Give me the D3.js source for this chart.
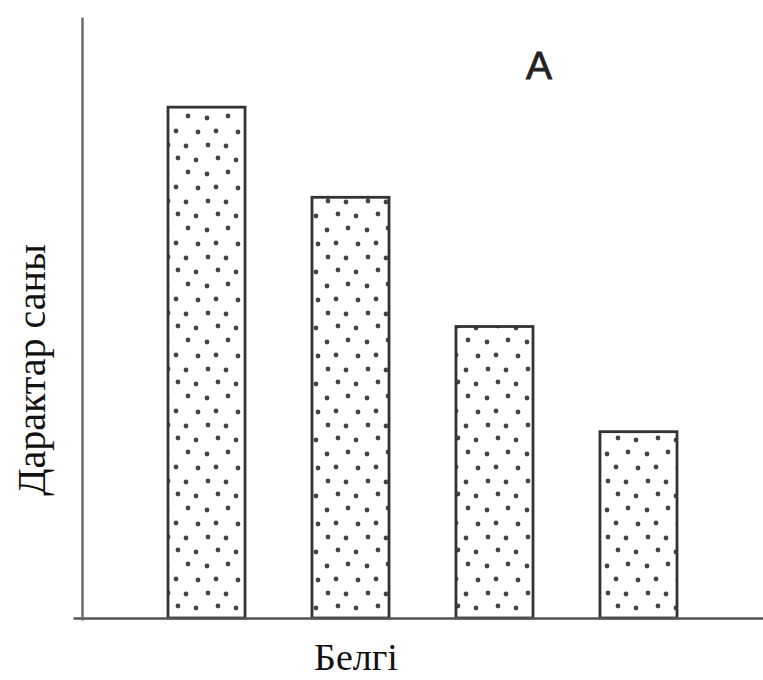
<!DOCTYPE html>
<html>
<head>
<meta charset="utf-8">
<script src="https://cdn.jsdelivr.net/npm/d3@7"></script>
<style>
  html, body { margin: 0; padding: 0; background: #fff; }
  svg { display: block; }
</style>
</head>
<body>
<svg id="chart" width="763" height="680"></svg>
<script>
// ---- data ----
const categories = ["1", "2", "3", "4"];
const values = [85, 70, 48.5, 31];
const yDomain = [0, 100];
const panelLabel = "A";
const xTitle = "Белгі";
const yTitle = "Дарактар саны";

// ---- chart ----
const svg = d3.select("#chart");
const baseY = 618, topY = 17, axisX = 82;

const x = d3.scaleBand()
  .domain(categories)
  .range([96, 749])
  .paddingInner(0.465)
  .paddingOuter(0.5);

const y = d3.scaleLinear().domain(yDomain).range([baseY, topY]);

// stipple pattern (hand-placed dots in one tile)
const defs = svg.append("defs");
const tileW = 40, tileH = 56;
const pat = defs.append("pattern")
  .attr("id", "dots")
  .attr("patternUnits", "userSpaceOnUse")
  .attr("width", tileW).attr("height", tileH)
  .attr("x", 2).attr("y", 0);
pat.append("rect").attr("width", tileW).attr("height", tileH).attr("fill", "#fff");
[[5, 6], [26, 4], [14, 19], [36, 20], [6, 33], [24, 34], [16, 46], [34, 48]].forEach(([cx, cy]) => {
  pat.append("circle").attr("cx", cx).attr("cy", cy).attr("r", 2.4).attr("fill", "#454545");
});

// bars
svg.append("g").selectAll("rect")
  .data(categories.map((c, i) => ({ c, v: values[i] })))
  .join("rect")
  .attr("x", d => x(d.c))
  .attr("y", d => y(d.v))
  .attr("width", x.bandwidth())
  .attr("height", d => y(0) - y(d.v))
  .attr("fill", "url(#dots)")
  .attr("stroke", "#333")
  .attr("stroke-width", 2.8);

// axes
const xAxisScale = d3.scaleLinear().range([73, 763]);
svg.append("g")
  .attr("transform", `translate(0,${baseY})`)
  .call(d3.axisBottom(xAxisScale).tickValues([]).tickSizeOuter(0))
  .call(g => g.select(".domain").attr("stroke", "#555").attr("stroke-width", 2.4));

const yAxisScale = d3.scaleLinear().range([620, topY]);
svg.append("g")
  .attr("transform", `translate(${axisX},0)`)
  .call(d3.axisLeft(yAxisScale).tickValues([]).tickSizeOuter(0))
  .call(g => g.select(".domain").attr("stroke", "#666").attr("stroke-width", 2.4));

// labels
svg.append("text")
  .attr("x", 539).attr("y", 79)
  .attr("text-anchor", "middle")
  .attr("font-family", "Liberation Sans, Arial, sans-serif")
  .attr("font-size", 39)
  .attr("fill", "#222")
  .attr("stroke", "#222")
  .attr("stroke-width", 0.8)
  .text(panelLabel);

svg.append("text")
  .attr("x", 356).attr("y", 670)
  .attr("text-anchor", "middle")
  .attr("font-family", "Liberation Serif, Times New Roman, serif")
  .attr("font-size", 38)
  .attr("fill", "#111")
  .text(xTitle);

svg.append("text")
  .attr("transform", "translate(45,370) rotate(-90)")
  .attr("text-anchor", "middle")
  .attr("font-family", "Liberation Serif, Times New Roman, serif")
  .attr("font-size", 40)
  .attr("fill", "#111")
  .text(yTitle);
</script>
</body>
</html>
